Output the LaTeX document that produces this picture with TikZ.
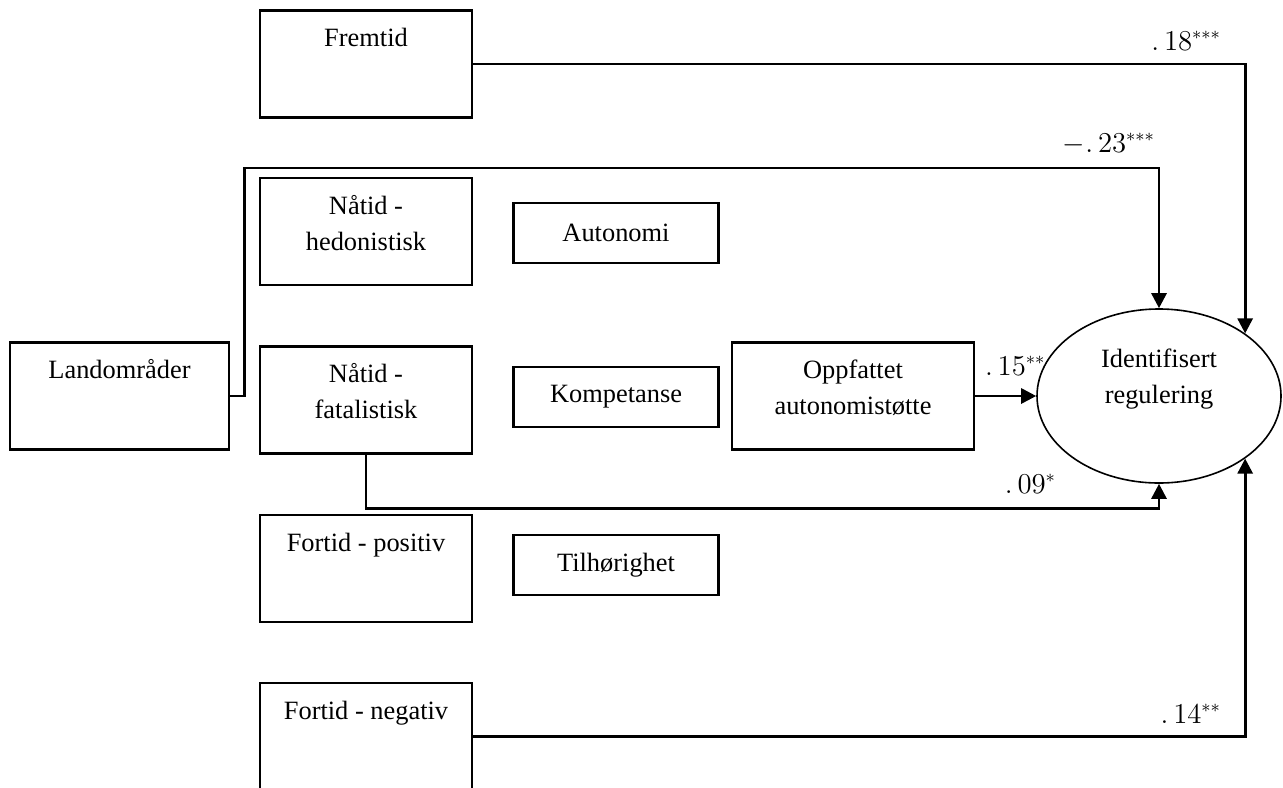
\documentclass[tikz,border=0pt]{standalone}
\usepackage{fontspec}
\setmainfont{Liberation Serif}
\usetikzlibrary{arrows.meta, shapes.geometric}

\begin{document}
\begin{tikzpicture}[x=0.5pt, y=-0.5pt]
\useasboundingbox (0, 0) rectangle (1283, 787);

\begin{scope}[every node/.style={draw=black,line width=1.1pt,inner sep=0pt,align=center,
                                 font=\fontsize{13.2}{18}\selectfont},
              tall/.style={minimum width=106pt,text height=18pt,text depth=35.5pt},
              tall2/.style={tall,text height=36pt,text depth=17.5pt},
              small/.style={minimum width=102.5pt,minimum height=30pt}]
    \node (fremtid) at (366, 64) [tall] {Fremtid};
    \node (hedon) at (366, 231.5) [tall2] {Nåtid -\\hedonistisk};
    \node (fatal) at (366, 400) [tall2] {Nåtid -\\fatalistisk};
    \node (pos) at (366, 568.5) [tall] {Fortid - positiv};
    \node (neg) at (366, 736.5) [tall] {Fortid - negativ};

    \node (land) at (119.5, 396) [tall,minimum width=109.5pt] {Landområder};

    \node (auto) at (616, 233) [small] {Autonomi};
    \node (komp) at (616, 397) [small] {Kompetanse};
    \node (tilh) at (616, 565) [small] {Tilhørighet};

    \node (oppf) at (853, 396) [tall2,minimum width=121pt] {Oppfattet\\autonomistøtte};

    \node (ident) at (1159, 396) [shape=ellipse,line width=0.8pt,minimum width=122pt,
        minimum height=87pt,text height=20pt,text depth=13pt] {Identifisert\\regulering};
\end{scope}

\begin{scope}[every node/.style={font=\fontsize{13.5}{17}\selectfont}]
    \node (l18) at (1228, 50) [anchor=base east] {$.\,18^{***}$};
    \node (l23) at (1162, 152) [anchor=base east] {$-.\,23^{***}$};
    \node (l15) at (978, 375) [anchor=base west] {$.\,15^{**}$};
    \node (l09) at (1063, 493) [anchor=base east] {$.\,09^{*}$};
    \node (l14) at (1228, 723) [anchor=base east] {$.\,14^{**}$};
\end{scope}

\begin{scope}[>={Triangle[length=7.5pt,width=7.5pt]}, line width=1.4pt]
    \draw [->] (fremtid.east) -| (ident.36.3);
    \draw [->] (land.east) -- ++(14, 0) -- ++(0, -228) -| (ident.north);
    \draw [->] (oppf.east) -- (ident.west);
    \draw [->] (fatal.south) -- ++(0, 54) -| (ident.south);
    \draw [->] (neg.east) -| (ident.-36.3);
\end{scope}
\end{tikzpicture}
\end{document}
